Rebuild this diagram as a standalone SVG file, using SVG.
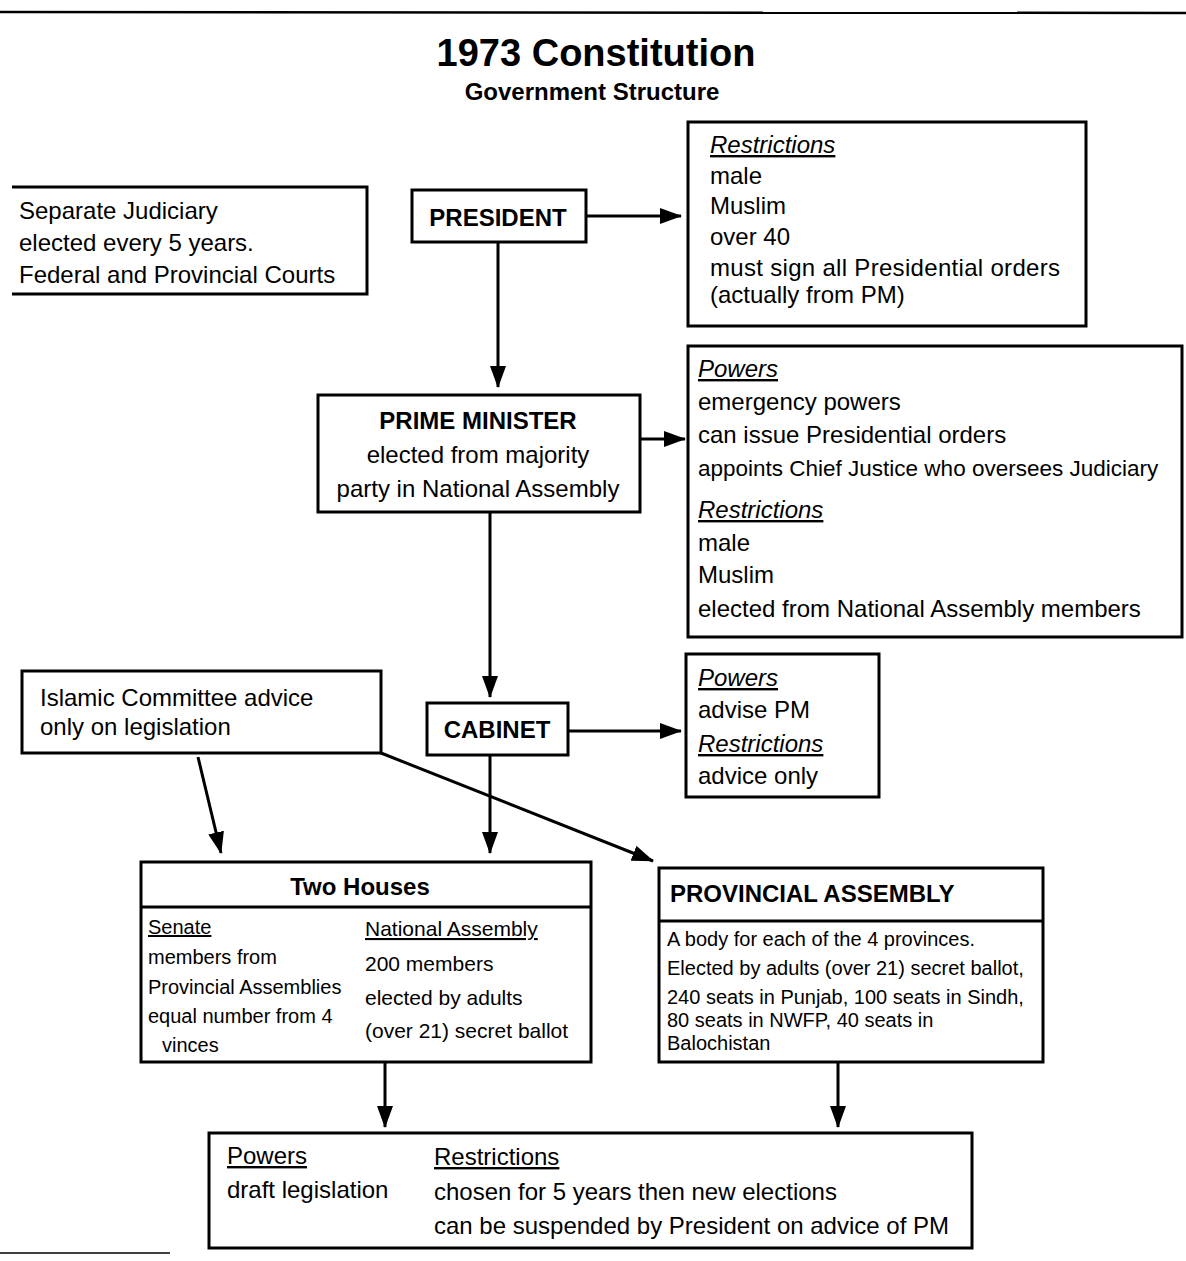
<svg xmlns="http://www.w3.org/2000/svg" width="1186" height="1261" viewBox="0 0 1186 1261">
<defs>
<marker id="ah" markerUnits="userSpaceOnUse" markerWidth="22" markerHeight="16" refX="21" refY="8" orient="auto">
<path d="M0,0 L22,8 L0,16 z" fill="#000"/>
</marker>
<style>
text{font-family:"Liberation Sans",Arial,sans-serif;fill:#000}
.box{fill:#fff;stroke:#000;stroke-width:3}
.b{font-weight:bold;font-size:24px}
.t{font-size:24px}
.s{font-size:21px}
.p{font-size:20px}
.ss{font-size:20px}
.h{font-style:italic;text-decoration:underline}
.u{text-decoration:underline}
.c{text-anchor:middle}
.con{fill:none;stroke:#000;stroke-width:3;marker-end:url(#ah)}
</style>
</defs>
<rect width="1186" height="1261" fill="#fff"/>
<line x1="0" y1="12" x2="1186" y2="13" stroke="#000" stroke-width="2.5"/>
<line x1="0" y1="1253" x2="170" y2="1253" stroke="#000" stroke-width="1.5"/>
<text x="596" y="66" class="c" style="font-size:38px;font-weight:bold">1973 Constitution</text>
<text x="592" y="100" class="c" style="font-size:24px;font-weight:bold">Government Structure</text>

<g id="connectors">
<path class="con" d="M586,216 L681,216"/>
<path class="con" d="M498,242 L498,387"/>
<path class="con" d="M640,439 L685,439"/>
<path class="con" d="M490,512 L490,697"/>
<path class="con" d="M568,731 L681,731"/>
<path class="con" d="M490,755 L490,853"/>
<path class="con" d="M198,757 L221,853"/>
<path class="con" d="M381,753 L653,861"/>
<path class="con" d="M385,1062 L385,1127"/>
<path class="con" d="M838,1062 L838,1127"/>
</g>

<g id="judiciary">
<path d="M12,187 L367,187 L367,294 L12,294" fill="#fff" stroke="#000" stroke-width="3"/>
<text x="19" y="219" class="t">Separate Judiciary</text>
<text x="19" y="251" class="t">elected every 5 years.</text>
<text x="19" y="283" class="t">Federal and Provincial Courts</text>
</g>

<g id="president">
<rect class="box" x="412" y="190" width="174" height="52"/>
<text x="498" y="226" class="b c">PRESIDENT</text>
</g>

<g id="president-restrictions">
<rect class="box" x="688" y="122" width="398" height="204"/>
<text x="710" y="153" class="t h">Restrictions</text>
<text x="710" y="184" class="t">male</text>
<text x="710" y="214" class="t">Muslim</text>
<text x="710" y="245" class="t">over 40</text>
<text x="710" y="276" class="t" textLength="350" lengthAdjust="spacing">must sign all Presidential orders</text>
<text x="710" y="303" class="t">(actually from PM)</text>
</g>

<g id="prime-minister">
<rect class="box" x="318" y="395" width="322" height="117"/>
<text x="478" y="429" class="b c">PRIME MINISTER</text>
<text x="478" y="463" class="t c">elected from majority</text>
<text x="478" y="497" class="t c">party in National Assembly</text>
</g>

<g id="pm-powers">
<rect class="box" x="688" y="346" width="494" height="291"/>
<text x="698" y="377" class="t h">Powers</text>
<text x="698" y="410" class="t">emergency powers</text>
<text x="698" y="443" class="t">can issue Presidential orders</text>
<text x="698" y="476" style="font-size:22.5px">appoints Chief Justice who oversees Judiciary</text>
<text x="698" y="518" class="t h">Restrictions</text>
<text x="698" y="551" class="t">male</text>
<text x="698" y="583" class="t">Muslim</text>
<text x="698" y="617" class="t">elected from National Assembly members</text>
</g>

<g id="islamic-committee">
<rect class="box" x="22" y="671" width="359" height="82"/>
<text x="40" y="706" class="t">Islamic Committee advice</text>
<text x="40" y="735" class="t">only on legislation</text>
</g>

<g id="cabinet">
<rect class="box" x="427" y="703" width="141" height="52"/>
<text x="497" y="738" class="b c">CABINET</text>
</g>

<g id="cabinet-powers">
<rect class="box" x="686" y="654" width="193" height="143"/>
<text x="698" y="686" class="t h">Powers</text>
<text x="698" y="718" class="t">advise PM</text>
<text x="698" y="752" class="t h">Restrictions</text>
<text x="698" y="784" class="t">advice only</text>
</g>

<g id="two-houses">
<rect class="box" x="141" y="862" width="450" height="200"/>
<line x1="141" y1="907" x2="591" y2="907" stroke="#000" stroke-width="3"/>
<text x="360" y="895" class="b c">Two Houses</text>
<text x="148" y="934" class="ss u">Senate</text>
<text x="148" y="964" class="ss">members from</text>
<text x="148" y="994" class="ss">Provincial Assemblies</text>
<text x="148" y="1023" class="ss">equal number from 4</text>
<text x="162" y="1052" class="ss">vinces</text>
<text x="365" y="936" class="s u">National Assembly</text>
<text x="365" y="971" class="s">200 members</text>
<text x="365" y="1005" class="s">elected by adults</text>
<text x="365" y="1038" class="s">(over 21) secret ballot</text>
</g>

<g id="provincial-assembly">
<rect class="box" x="659" y="868" width="384" height="194"/>
<line x1="659" y1="921" x2="1043" y2="921" stroke="#000" stroke-width="3"/>
<text x="670" y="902" class="b">PROVINCIAL ASSEMBLY</text>
<text x="667" y="946" class="p">A body for each of the 4 provinces.</text>
<text x="667" y="975" class="p">Elected by adults (over 21) secret ballot,</text>
<text x="667" y="1004" class="p">240 seats in Punjab, 100 seats in Sindh,</text>
<text x="667" y="1027" class="p">80 seats in NWFP, 40 seats in</text>
<text x="667" y="1050" class="p">Balochistan</text>
</g>

<g id="legislature-powers">
<rect class="box" x="209" y="1133" width="763" height="115"/>
<text x="227" y="1164" class="t u">Powers</text>
<text x="227" y="1198" class="t">draft legislation</text>
<text x="434" y="1165" class="t u">Restrictions</text>
<text x="434" y="1200" class="t">chosen for 5 years then new elections</text>
<text x="434" y="1234" class="t">can be suspended by President on advice of PM</text>
</g>
</svg>
